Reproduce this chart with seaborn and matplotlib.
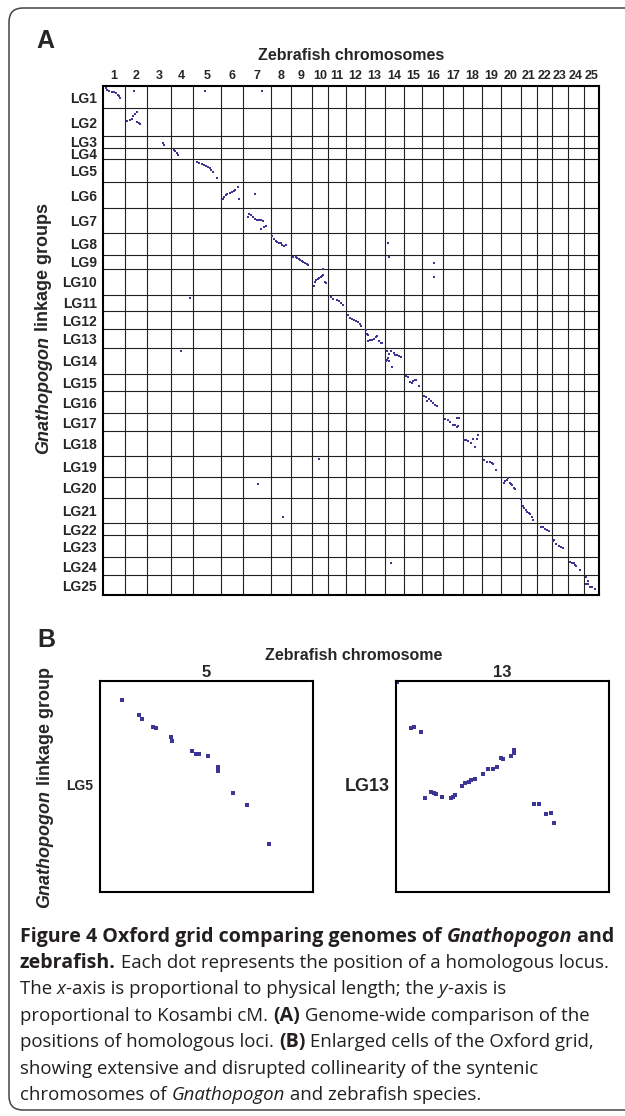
import matplotlib
matplotlib.use("Agg")
import numpy as np
import pandas as pd
import matplotlib.pyplot as plt
import seaborn as sns
from matplotlib.patches import FancyBboxPatch

# --------------------------------------------------
# Data
# --------------------------------------------------
zf_labels = ['1', '2', '3', '4', '5', '6', '7', '8', '9', '10', '11', '12', '13',
             '14', '15', '16', '17', '18', '19', '20', '21', '22', '23', '24', '25']
# zebrafish chromosome lengths (Mb)
zf_len_mb = [60, 61, 64, 61, 78, 60, 77, 55, 57, 45, 48, 52, 55,
             53, 51, 57, 55, 51, 52, 55, 44, 41, 45, 44, 40]

lg_labels = ['LG1', 'LG2', 'LG3', 'LG4', 'LG5', 'LG6', 'LG7', 'LG8', 'LG9', 'LG10',
             'LG11', 'LG12', 'LG13', 'LG14', 'LG15', 'LG16', 'LG17', 'LG18', 'LG19',
             'LG20', 'LG21', 'LG22', 'LG23', 'LG24', 'LG25']
# Gnathopogon linkage group lengths (Kosambi cM)
lg_len_cm = [55, 70, 29, 28, 57, 66, 61, 55, 35, 64, 41, 46, 47,
             63, 43, 56, 45, 62, 52, 53, 62, 30, 55, 45, 50]

# homologous loci: linkage group, zebrafish chromosome, position on each
dot_lg = [
    1, 1, 1, 1, 1, 1, 1, 1, 1, 1, 1, 1,
    2, 2, 2, 2, 2, 2, 2, 2, 2,
    3, 3,
    4, 4, 4, 4,
    5, 5, 5, 5, 5, 5, 5, 5, 5, 5,
    6, 6, 6, 6, 6, 6, 6, 6, 6, 6, 6,
    7, 7, 7, 7, 7, 7, 7, 7, 7, 7, 7, 7,
    8, 8, 8, 8, 8, 8, 8, 8, 8, 8,
    9, 9, 9, 9, 9, 9, 9, 9, 9, 9, 9, 9,
    10, 10, 10, 10, 10, 10, 10, 10, 10, 10, 10, 10,
    11, 11, 11, 11, 11, 11, 11,
    12, 12, 12, 12, 12, 12, 12, 12,
    13, 13, 13, 13, 13, 13, 13, 13, 13, 13, 13, 13,
    14, 14, 14, 14, 14, 14, 14, 14, 14, 14, 14, 14, 14, 14,
    15, 15, 15, 15, 15, 15, 15, 15,
    16, 16, 16, 16, 16, 16, 16, 16,
    17, 17, 17, 17, 17, 17, 17, 17, 17,
    18, 18, 18, 18, 18, 18, 18, 18,
    19, 19, 19, 19, 19, 19, 19,
    20, 20, 20, 20, 20, 20, 20, 20, 20, 20,
    21, 21, 21, 21, 21, 21, 21, 21, 21, 21,
    22, 22, 22, 22, 22,
    23, 23, 23, 23, 23, 23,
    24, 24, 24, 24, 24, 24, 24,
    25, 25, 25, 25, 25, 25, 25,
]
dot_chr = [
    1, 1, 1, 1, 1, 1, 1, 1, 1, 2, 5, 7,
    2, 2, 2, 2, 2, 2, 2, 2, 2,
    3, 3,
    4, 4, 4, 4,
    5, 5, 5, 5, 5, 5, 5, 5, 5, 5,
    6, 6, 6, 6, 6, 6, 6, 6, 6, 6, 7,
    7, 7, 7, 7, 7, 7, 7, 7, 7, 7, 7, 7,
    8, 8, 8, 8, 8, 8, 8, 8, 8, 14,
    9, 9, 9, 9, 9, 9, 9, 9, 9, 9, 14, 16,
    10, 10, 10, 10, 10, 10, 10, 10, 10, 10, 10, 16,
    4, 11, 11, 11, 11, 11, 11,
    12, 12, 12, 12, 12, 12, 12, 12,
    13, 13, 13, 13, 13, 13, 13, 13, 13, 13, 13, 13,
    4, 14, 14, 14, 14, 14, 14, 14, 14, 14, 14, 14, 14, 14,
    15, 15, 15, 15, 15, 15, 15, 15,
    16, 16, 16, 16, 16, 16, 16, 16,
    17, 17, 17, 17, 17, 17, 17, 17, 17,
    18, 18, 18, 18, 18, 18, 18, 18,
    10, 19, 19, 19, 19, 19, 19,
    7, 20, 20, 20, 20, 20, 20, 20, 20, 20,
    8, 21, 21, 21, 21, 21, 21, 21, 21, 21,
    22, 22, 22, 22, 22,
    23, 23, 23, 23, 23, 23,
    14, 24, 24, 24, 24, 24, 24,
    25, 25, 25, 25, 25, 25, 25,
]
dot_mb = [
    6.6, 11, 16.5, 23, 29.4, 35, 39.5, 43, 46, 24.4, 32.8, 52.4,
    6, 13.4, 18.9, 22.5, 27.2, 32.7, 33.5, 38.2, 41.8,
    42.4, 46.8,
    9.4, 13, 16.9, 19.6,
    11.7, 18, 24.6, 30.9, 36.4, 41.9, 46.6, 50.2, 55.7, 65.8,
    4.3, 7.9, 12.6, 17, 24.4, 29.9, 34.6, 39, 46.4, 50, 33.2,
    13.1, 17.5, 22.2, 26.9, 32.4, 37.9, 44.2, 50.5, 56, 62.6, 58.8, 49.7,
    3.8, 7.6, 13.1, 17.5, 22.2, 26.9, 31.3, 35.1, 41.4, 9.9,
    6.5, 13.1, 17.5, 21.4, 25, 29.6, 34, 38.7, 43.4, 47.8, 12.7, 32.4,
    5.6, 8.4, 12, 16.6, 20.2, 24.9, 28.4, 32, 31.2, 36.7, 40.3, 32.4,
    52.6, 8.2, 14.5, 23.9, 29.4, 35.7, 40.4,
    7.8, 12.4, 17.9, 23.4, 28.9, 34.4, 39.1, 41.9,
    3.6, 6.3, 9.1, 10.8, 16.3, 21.8, 26.4, 31.9, 34.7, 40.2, 44.9, 47.6,
    28.7, 6.4, 19, 11.8, 9.1, 4.4, 12.7, 8, 25.6, 30, 34.7, 39.4, 44.9, 20.9,
    6.4, 11.1, 17.4, 22.1, 24.9, 30.4, 33.9, 42.2,
    4.9, 10.4, 14, 18.7, 22.3, 29.7, 34.4, 39.8,
    4.9, 13.9, 19.4, 25.8, 31.3, 36.8, 40.6, 38.7, 43.3,
    2.9, 8.4, 13.9, 20.3, 26.9, 38.7, 40.6, 33.2,
    20.2, 6.9, 14.3, 21.5, 27, 29.8, 40,
    41.4, 8, 12.7, 17.4, 20.1, 24.5, 29.2, 31.9, 35.5, 40.2,
    32.4, 1.7, 6.4, 9.1, 13.5, 18.2, 22.9, 26.4, 31.1, 33.8,
    11.9, 17.4, 22.9, 27.3, 32.8,
    3.9, 7.4, 12.9, 20.4, 24.8, 30.3,
    17.3, 4.5, 10, 15.5, 19.4, 22.1, 33.9,
    5.6, 11.9, 6.4, 11.1, 16.6, 21, 31.2,
]
dot_cm = [
    5.7, 10, 12.5, 14.2, 15.7, 18.3, 21.6, 25, 30, 12.5, 12.5, 12.5,
    31.5, 30.6, 26.5, 19.8, 15.6, 10.6, 34.8, 37.3, 39.8,
    16.4, 22.1,
    6.4, 8.9, 12.4, 17.3,
    8.3, 10.8, 13.3, 15.8, 17.5, 20, 23.3, 27.5, 31.7, 46.7,
    42.8, 37.1, 32.1, 30.4, 28.6, 26.1, 23.6, 20.4, 12.1, 42, 30.4,
    21, 15, 17.5, 21.7, 26, 28.5, 29.2, 30, 31.7, 43.4, 46, 51.6,
    8.9, 16.3, 19.8, 22.3, 24.8, 26.4, 29.8, 33.9, 29.8, 25.6,
    4.7, 5.5, 8.7, 11.2, 13.7, 16.2, 18.7, 21.2, 23.7, 25.4, 5.5, 20.4,
    42, 33.6, 28.6, 26.1, 23.6, 21.1, 18.6, 14.6, 1.2, 32.1, 35.3, 20.4,
    8.7, 7, 11.2, 13.7, 17, 20.5, 25.5,
    9.4, 16.9, 19.4, 22.6, 25.1, 28.3, 32.6, 37.6,
    1.5, 12.3, 14, 28.2, 27.3, 25.7, 23.2, 18.2, 15.7, 29, 33.2, 34.7,
    6.9, 6.2, 6.2, 15.1, 25.1, 31.1, 31.1, 28.6, 12.6, 16.1, 17.6, 18.6, 21.1, 46,
    6.3, 8, 22, 24.5, 18.7, 16.2, 16.2, 31.2,
    13.1, 15.6, 24.9, 21.4, 25.6, 30.6, 35.6, 38.1,
    13.8, 17, 22, 30.2, 28.7, 33.7, 32, 11.3, 11.3,
    21.8, 22.7, 24.4, 28.6, 18.6, 18.6, 9.4, 38.6,
    7.3, 9, 14, 14.7, 16.5, 19.7, 34.7,
    17.6, 14.3, 10.9, 7.6, 3.4, 15.9, 17.6, 20.1, 26.8, 30.1,
    46.9, 2.8, 19.5, 23.7, 29.5, 33.7, 37.7, 38.6, 46.1, 54.4,
    9.1, 10.6, 14.1, 17.4, 20.6,
    14, 12.3, 23, 27.2, 28.9, 32.2,
    13.9, 11.4, 13.9, 14.6, 18.9, 22.1, 32.1,
    3.8, 13.8, 22, 22, 28.8, 29.6, 33.8,
]

# enlarged cells (panel B)
b5_mb = [7.9, 14.2, 15.5, 19.3, 20.4, 26.1, 26.4, 33.7, 35.1, 36.1, 39.5, 43.1,
         43.1, 48.8, 54.0, 62.0]
b5_cm = [5.0, 9.3, 10.4, 12.3, 12.7, 15.2, 16.3, 18.9, 19.6, 19.6, 20.2, 23.3,
         24.2, 30.3, 33.5, 44.1]
b13_mb = [0.3, 3.9, 4.6, 6.5, 7.4, 9.1, 9.8, 10.3, 11.9, 14.1, 14.7, 15.3, 17.1,
          17.8, 18.8, 19.4, 20.4, 22.5, 23.8, 25.0, 26.0, 27.2, 27.7, 29.7, 30.4,
          30.5, 35.6, 36.9, 38.8, 40.0, 40.9]
b13_cm = [0.3, 10.5, 10.2, 11.4, 26.1, 24.8, 25.0, 25.2, 25.9, 26.1, 25.8, 25.4,
          23.4, 22.7, 22.4, 22.0, 21.9, 20.7, 19.7, 19.5, 19.1, 17.2, 17.4, 16.7,
          16.0, 15.4, 27.4, 27.4, 29.6, 29.5, 31.7]

# --------------------------------------------------
# Style
# --------------------------------------------------
sns.set_style("white")
plt.rcParams['font.family'] = ['Liberation Sans', 'DejaVu Sans']
DOT = '#3b3596'
LINE = '#222222'
W, H = 625, 1116

fig = plt.figure(figsize=(W / 100, H / 100), dpi=100)


def px_axes(x0, y0, x1, y1):
    # axes from pixel box (top-left origin)
    return fig.add_axes([x0 / W, 1 - y1 / H, (x1 - x0) / W, (y1 - y0) / H])


# --------------------------------------------------
# Panel A: Oxford grid
# --------------------------------------------------
df = pd.DataFrame({'lg': dot_lg, 'chr': dot_chr, 'mb': dot_mb, 'cm': dot_cm})
chr_edges = np.concatenate([[0], np.cumsum(zf_len_mb)])
lg_edges = np.concatenate([[0], np.cumsum(lg_len_cm)])
df['x'] = chr_edges[df['chr'] - 1] + df['mb']
df['y'] = lg_edges[df['lg'] - 1] + df['cm']

ax = px_axes(103.3, 86, 598.5, 595.4)
sns.scatterplot(data=df, x='x', y='y', marker='s', s=4.5, color=DOT,
                linewidth=0, ax=ax, legend=False, zorder=3)
for b in chr_edges[1:-1]:
    ax.axvline(b, color=LINE, lw=0.8, zorder=1)
for b in lg_edges[1:-1]:
    ax.axhline(b, color=LINE, lw=0.8, zorder=1)
ax.set_xlim(0, chr_edges[-1])
ax.set_ylim(lg_edges[-1], 0)

ax.set_xticks((chr_edges[:-1] + chr_edges[1:]) / 2, zf_labels)
ax.set_yticks((lg_edges[:-1] + lg_edges[1:]) / 2, lg_labels)
ax.xaxis.tick_top()
ax.tick_params(axis='x', length=0, pad=3, labelsize=9)
ax.tick_params(axis='y', length=0, pad=4.5, labelsize=10)
for t in ax.get_xticklabels() + ax.get_yticklabels():
    t.set_fontweight('bold')
ax.xaxis.set_label_position('top')
ax.set_xlabel('Zebrafish chromosomes', fontsize=11.5, fontweight='bold', labelpad=7)
ax.set_ylabel('')
for s in ax.spines.values():
    s.set_linewidth(1.5)
    s.set_color('black')

# --------------------------------------------------
# Panel B: enlarged cells
# --------------------------------------------------
cells = [
    (px_axes(100, 681, 313, 892), b5_mb, b5_cm, zf_len_mb[4], lg_len_cm[4], '5', 'LG5', 10),
    (px_axes(396, 681, 609, 892), b13_mb, b13_cm, zf_len_mb[12], lg_len_cm[12], '13', 'LG13', 13),
]
for axb, xs, ys, xmax, ymax, title, lab, lsize in cells:
    sns.scatterplot(x=xs, y=ys, marker='s', s=6, color=DOT, linewidth=0,
                    ax=axb, legend=False, clip_on=False)
    axb.set_xlim(0, xmax)
    axb.set_ylim(ymax, 0)
    axb.set_xticks([])
    axb.set_yticks([])
    axb.set_title(title, fontsize=12, fontweight='bold', pad=3)
    axb.set_ylabel(lab, rotation=0, ha='right', va='center',
                   fontsize=lsize, fontweight='bold')
    axb.yaxis.set_label_coords(-0.03, 0.5)
    for s in axb.spines.values():
        s.set_linewidth(1.5)
        s.set_color('black')

# --------------------------------------------------
# Overlay: panel letters, rotated labels, frame, caption
# --------------------------------------------------
ov = fig.add_axes([0, 0, 1, 1], zorder=-1)
ov.set_xlim(0, W)
ov.set_ylim(H, 0)
ov.set_axis_off()

ov.add_patch(FancyBboxPatch((9, 8), 660, 1102, boxstyle='round,pad=0,rounding_size=14',
                            fill=False, ec='#444444', lw=1.1, clip_on=False))
ov.text(36, 48, 'A', fontsize=18, fontweight='bold', ha='left', va='baseline')
ov.text(37, 647, 'B', fontsize=18, fontweight='bold', ha='left', va='baseline')
ov.text(354, 655, 'Zebrafish chromosome', fontsize=11.5, fontweight='bold',
        ha='center', va='center')


def vlabel(x, y_bottom, rest, size=13):
    t = ov.text(x, y_bottom, 'Gnathopogon', rotation=90, ha='center', va='bottom',
                fontsize=size, fontweight='bold', style='italic')
    ov.annotate(rest, xy=(0.5, 1), xycoords=t, rotation=90, ha='center', va='bottom',
                fontsize=size, fontweight='bold')


vlabel(44, 454, ' linkage groups')
vlabel(45, 908, ' linkage group')

R = {}
B = {'weight': 'bold'}
I = {'style': 'italic'}
BI = {'weight': 'bold', 'style': 'italic'}
caption = [
    [("Figure 4 Oxford grid comparing genomes of ", B), ("Gnathopogon", BI), (" and", B)],
    [("zebrafish.", B), (" Each dot represents the position of a homologous locus.", R)],
    [("The ", R), ("x", I), ("-axis is proportional to physical length; the ", R),
     ("y", I), ("-axis is", R)],
    [("proportional to Kosambi cM. ", R), ("(A)", B), (" Genome-wide comparison of the", R)],
    [("positions of homologous loci. ", R), ("(B)", B),
     (" Enlarged cells of the Oxford grid,", R)],
    [("showing extensive and disrupted collinearity of the syntenic", R)],
    [("chromosomes of ", R), ("Gnathopogon", I), (" and zebrafish species.", R)],
]
cap_y = [937, 963, 989, 1016, 1042, 1069, 1095]
CAP_SIZE = 13
CAP_X0 = 20
cap_bold, cap_reg = [], []
lines_art = []
for line, y in zip(caption, cap_y):
    prev = None
    arts = []
    for txt, st in line:
        kw = dict(fontsize=CAP_SIZE, family=['Open Sans', 'DejaVu Sans'], color='#231f20',
                  va='center', ha='left', **st)
        if prev is None:
            prev = ov.text(CAP_X0, y, txt, **kw)
        else:
            prev = ov.annotate(txt, xy=(1, 0.5), xycoords=prev, **kw)
        arts.append(prev)
        (cap_bold if st.get('weight') == 'bold' else cap_reg).append(prev)
    lines_art.append(arts)

# fit caption widths: bold line 1 to ~612 px, line 2 (mostly regular) to ~610 px
fig.canvas.draw()
rend = fig.canvas.get_renderer()
right1 = lines_art[0][-1].get_window_extent(rend).x1
sb = CAP_SIZE * (612 - CAP_X0) / (right1 - CAP_X0)
for t in cap_bold + cap_reg:
    t.set_fontsize(sb)
fig.canvas.draw()
rend = fig.canvas.get_renderer()
bold_end = lines_art[1][0].get_window_extent(rend).x1
right2 = lines_art[1][-1].get_window_extent(rend).x1
k = (610 - bold_end) / (right2 - bold_end)
for t in cap_reg:
    t.set_fontsize(sb * k)

fig.savefig("out.png", dpi=100)
